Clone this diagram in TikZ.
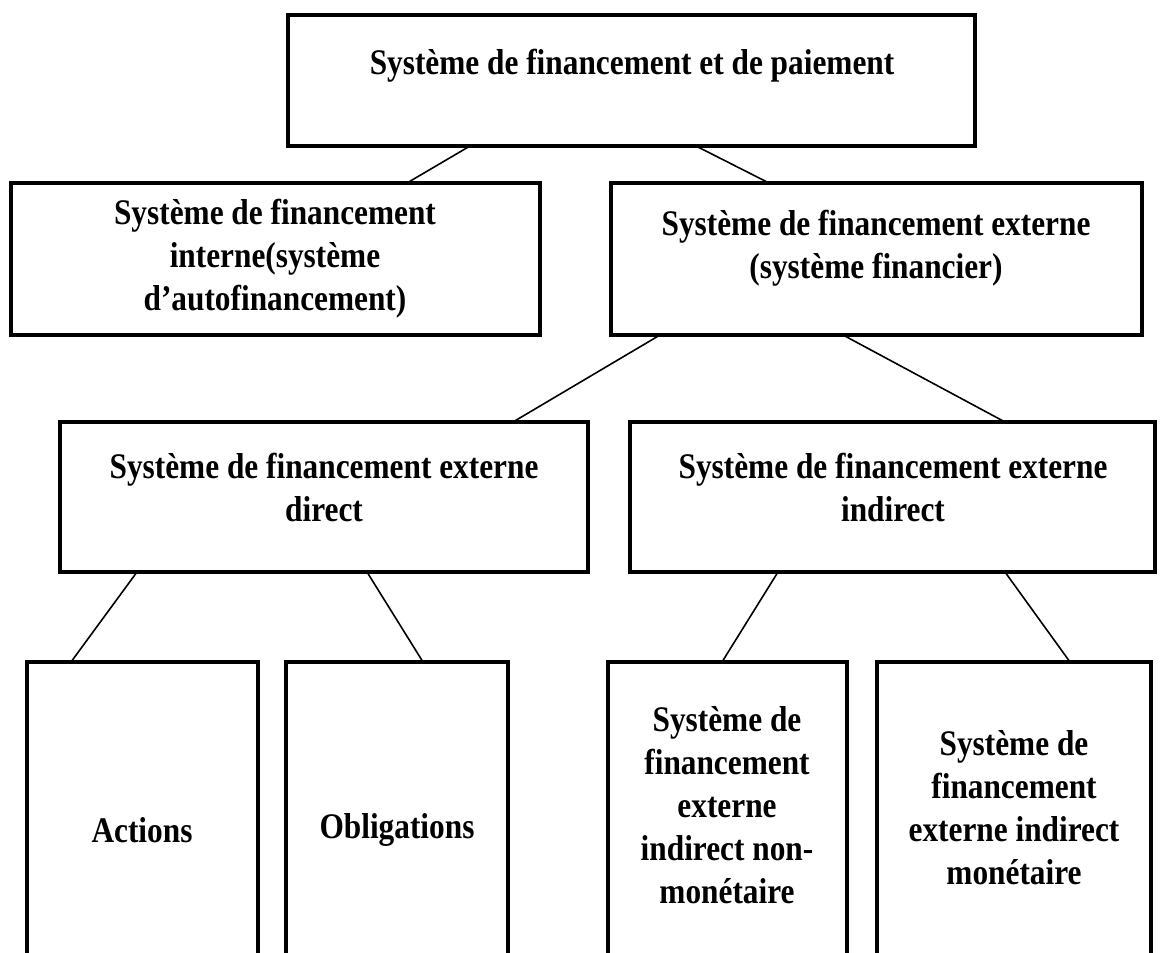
\documentclass[tikz,border=0pt]{standalone}
\usepackage{fontspec}
\setmainfont{Liberation Serif}[FakeStretch=0.87]
\begin{document}
\begin{tikzpicture}[x=1pt,y=-1pt,
  box/.style={draw, line width=4.5pt, rectangle, outer sep=0pt, inner sep=0pt},
  lbl/.style={align=center, font=\fontsize{36}{43}\selectfont\bfseries, inner sep=0pt},
  link/.style={line width=1.6pt}]
\useasboundingbox (0,0) rectangle (1160,953);
\clip (0,0) rectangle (1160,953);

% boxes
\node[box, minimum width=687pt, minimum height=131pt] (top) at (631.5,80.5) {};
\node[box, minimum width=529pt, minimum height=152pt] (int) at (275.5,259) {};
\node[box, minimum width=531pt, minimum height=152pt] (ext) at (876.5,259) {};
\node[box, minimum width=528pt, minimum height=150pt] (dir) at (324,497) {};
\node[box, minimum width=525pt, minimum height=150pt] (ind) at (892.5,497) {};
\node[box, minimum width=231pt, minimum height=338pt] (act) at (142.5,831) {};
\node[box, minimum width=222pt, minimum height=338pt] (obl) at (397,831) {};
\node[box, minimum width=239pt, minimum height=338pt] (nmon) at (727.5,831) {};
\node[box, minimum width=274pt, minimum height=338pt] (mon) at (1014,831) {};

% labels
\node[lbl] (ttop) at (632,66) {Système de financement et de paiement};
\node[lbl] (tint) at (275,259) {Système de financement\\interne(système\\d’autofinancement)};
\node[lbl] (text) at (876,248) {Système de financement externe\\(système financier)};
\node[lbl] (tdir) at (324,487) {Système de financement externe\\direct};
\node[lbl] (tind) at (893,487) {Système de financement externe\\indirect};
\node[lbl] (tact) at (142,830) {Actions};
\node[lbl] (tobl) at (397,830) {Obligations};
\node[lbl] (tnmon) at (727,805) {Système de\\financement\\externe\\indirect non-\\monétaire};
\node[lbl] (tmon) at (1014,808) {Système de\\financement\\externe indirect\\monétaire};

% connectors
\draw[link] ([xshift=182pt]top.south west) -- ([xshift=396pt]int.north west);
\draw[link] ([xshift=408pt]top.south west) -- ([xshift=158pt]ext.north west);
\draw[link] ([xshift=49pt]ext.south west) -- ([xshift=453pt]dir.north west);
\draw[link] ([xshift=232pt]ext.south west) -- ([xshift=375pt]ind.north west);
\draw[link] ([xshift=77pt]dir.south west) -- ([xshift=44pt]act.north west);
\draw[link] ([xshift=307pt]dir.south west) -- ([xshift=137pt]obl.north west);
\draw[link] ([xshift=148pt]ind.south west) -- ([xshift=114pt]nmon.north west);
\draw[link] ([xshift=375pt]ind.south west) -- ([xshift=193pt]mon.north west);
\end{tikzpicture}
\end{document}
